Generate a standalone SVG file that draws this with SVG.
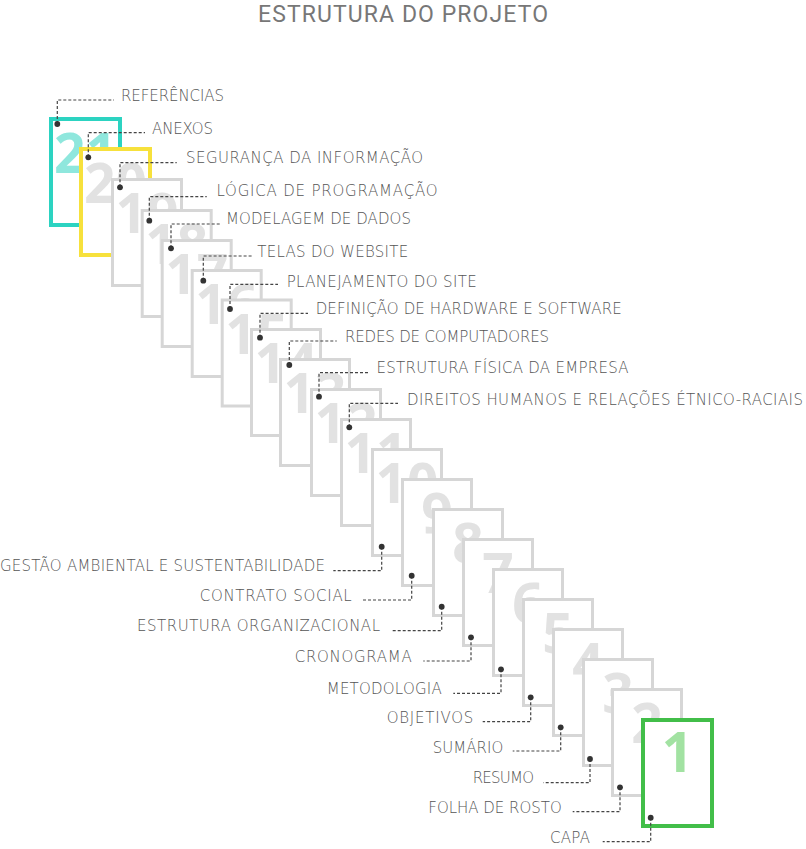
<svg xmlns="http://www.w3.org/2000/svg" width="806" height="849" viewBox="0 0 806 849">
<style>
.card{fill:#fff;stroke:#d6d6d6;stroke-width:3}
.num{font-family:"Open Sans","Liberation Sans",sans-serif;font-weight:700;font-size:55px;fill:#e2e2e2;text-anchor:middle}
.lbl{font-family:"DejaVu Sans","Liberation Sans",sans-serif;font-weight:200;font-size:15px;fill:#555}
.end{text-anchor:end}
.title{font-family:Roboto,"Liberation Sans",sans-serif;font-size:23px;fill:#777;text-anchor:middle}
.con{fill:none;stroke:#444;stroke-width:1.2;stroke-dasharray:3 2;marker-start:url(#dot)}
</style>
<defs>
<marker id="dot" markerUnits="userSpaceOnUse" markerWidth="8" markerHeight="8" viewBox="0 0 8 8" refX="4" refY="4" orient="0">
<circle cx="4" cy="4" r="2.9" fill="#333"/>
</marker>
</defs>
<text class="title" x="403" y="22" textLength="290">ESTRUTURA DO PROJETO</text>

<g id="card21"><rect x="51" y="119" width="69" height="106" style="fill:#fff;stroke:#2cd3c1;stroke-width:4"/><text class="num" x="85.5" y="173" style="fill:#8fe7dd">21</text><text class="lbl" x="121" y="101" textLength="103">REFERÊNCIAS</text></g>
<g id="card20"><rect x="81" y="149" width="69" height="106" style="fill:#fff;stroke:#f7e13c;stroke-width:4"/><text class="num" x="115.5" y="203">20</text><text class="lbl" x="152" y="134" textLength="61">ANEXOS</text></g>
<g id="card19"><rect class="card" x="112.5" y="179.5" width="69" height="106"/><text class="num" x="147" y="233">19</text><text class="lbl" x="186" y="163" textLength="237">SEGURANÇA DA INFORMAÇÃO</text></g>
<g id="card18"><rect class="card" x="142.2" y="210.5" width="69" height="106"/><text class="num" x="176.7" y="264">18</text><text class="lbl" x="216.5" y="196" textLength="221">LÓGICA DE PROGRAMAÇÃO</text></g>
<g id="card17"><rect class="card" x="162.2" y="240.5" width="69" height="106"/><text class="num" x="196.7" y="294">17</text><text class="lbl" x="226" y="224" textLength="185">MODELAGEM DE DADOS</text></g>
<g id="card16"><rect class="card" x="192.2" y="270.5" width="69" height="106"/><text class="num" x="226.7" y="324">16</text><text class="lbl" x="257.3" y="256.7" textLength="151">TELAS DO WEBSITE</text></g>
<g id="card15"><rect class="card" x="222.2" y="300" width="69" height="106"/><text class="num" x="256.7" y="354">15</text><text class="lbl" x="286.7" y="286.5" textLength="190">PLANEJAMENTO DO SITE</text></g>
<g id="card14"><rect class="card" x="251.5" y="329.5" width="69" height="106"/><text class="num" x="286" y="383">14</text><text class="lbl" x="315.7" y="314" textLength="306">DEFINIÇÃO DE HARDWARE E SOFTWARE</text></g>
<g id="card13"><rect class="card" x="280.5" y="359.5" width="69" height="106"/><text class="num" x="315" y="413">13</text><text class="lbl" x="345" y="342" textLength="204">REDES DE COMPUTADORES</text></g>
<g id="card12"><rect class="card" x="311.5" y="389.5" width="69" height="106"/><text class="num" x="346" y="443">12</text><text class="lbl" x="376.5" y="373" textLength="252">ESTRUTURA FÍSICA DA EMPRESA</text></g>
<g id="card11"><rect class="card" x="341.5" y="419.5" width="69" height="106"/><text class="num" x="376" y="473">11</text><text class="lbl" x="407" y="404.5" textLength="396">DIREITOS HUMANOS E RELAÇÕES ÉTNICO-RACIAIS</text></g>
<g id="card10"><rect class="card" x="372.5" y="449.5" width="69" height="106"/><text class="num" x="407" y="503">10</text><text class="lbl end" x="325" y="571" textLength="325">GESTÃO AMBIENTAL E SUSTENTABILIDADE</text></g>
<g id="card9"><rect class="card" x="402.5" y="479.5" width="69" height="106"/><text class="num" x="437" y="533">9</text><text class="lbl end" x="351.7" y="600.5" textLength="152">CONTRATO SOCIAL</text></g>
<g id="card8"><rect class="card" x="433.5" y="509.5" width="69" height="106"/><text class="num" x="468" y="563">8</text><text class="lbl end" x="380" y="631" textLength="243">ESTRUTURA ORGANIZACIONAL</text></g>
<g id="card7"><rect class="card" x="463.5" y="539.5" width="69" height="106"/><text class="num" x="498" y="593">7</text><text class="lbl end" x="411.7" y="662" textLength="117">CRONOGRAMA</text></g>
<g id="card6"><rect class="card" x="493.5" y="569.5" width="69" height="106"/><text class="num" x="528" y="623">6</text><text class="lbl end" x="441.7" y="694" textLength="115">METODOLOGIA</text></g>
<g id="card5"><rect class="card" x="523.5" y="599.5" width="69" height="106"/><text class="num" x="558" y="653">5</text><text class="lbl end" x="473.3" y="722.7" textLength="86.6">OBJETIVOS</text></g>
<g id="card4"><rect class="card" x="553.5" y="629.5" width="69" height="106"/><text class="num" x="588" y="683">4</text><text class="lbl end" x="503.3" y="752.5" textLength="70.6">SUMÁRIO</text></g>
<g id="card3"><rect class="card" x="583.5" y="659.5" width="69" height="106"/><text class="num" x="618" y="713">3</text><text class="lbl end" x="534" y="783" textLength="61.3">RESUMO</text></g>
<g id="card2"><rect class="card" x="612.5" y="689.5" width="69" height="106"/><text class="num" x="647" y="743">2</text><text class="lbl end" x="561.7" y="812.5" textLength="133.4">FOLHA DE ROSTO</text></g>
<g id="card1"><rect x="643" y="720" width="69" height="106" style="fill:#fff;stroke:#42be49;stroke-width:4"/><text class="num" x="677.5" y="772" style="fill:#a2e2a2">1</text><text class="lbl end" x="590" y="843" textLength="40">CAPA</text></g>

<g id="connectors">
<path class="con" d="M57.3 124V100H114"/>
<path class="con" d="M88.3 157.3V132.7H145"/>
<path class="con" d="M120 187.3V162.7H176.7"/>
<path class="con" d="M149.3 220.7V196.7H206.7"/>
<path class="con" d="M171 248.3V224H220"/>
<path class="con" d="M203.3 280.7V256H251.7"/>
<path class="con" d="M230 309V284.3H278"/>
<path class="con" d="M260 337.7V313.3H308"/>
<path class="con" d="M289.3 365V341H336.7"/>
<path class="con" d="M319 396.7V372.7H368"/>
<path class="con" d="M349.3 427.3V403.3H398"/>
<path class="con" d="M381.7 546.7V570.7H333.3"/>
<path class="con" d="M411.7 575.7V600H363"/>
<path class="con" d="M441.7 606.7V630.7H391.7"/>
<path class="con" d="M471 637.3V661H423.3"/>
<path class="con" d="M501 669.3V693.3H453.3"/>
<path class="con" d="M530.7 697.3V721.7H482.7"/>
<path class="con" d="M560.7 727.3V751H512.7"/>
<path class="con" d="M590 759V782.7H543.3"/>
<path class="con" d="M620 787.3V811.7H572.7"/>
<path class="con" d="M650.7 817.7V841.7H602.7"/>
</g>
</svg>
